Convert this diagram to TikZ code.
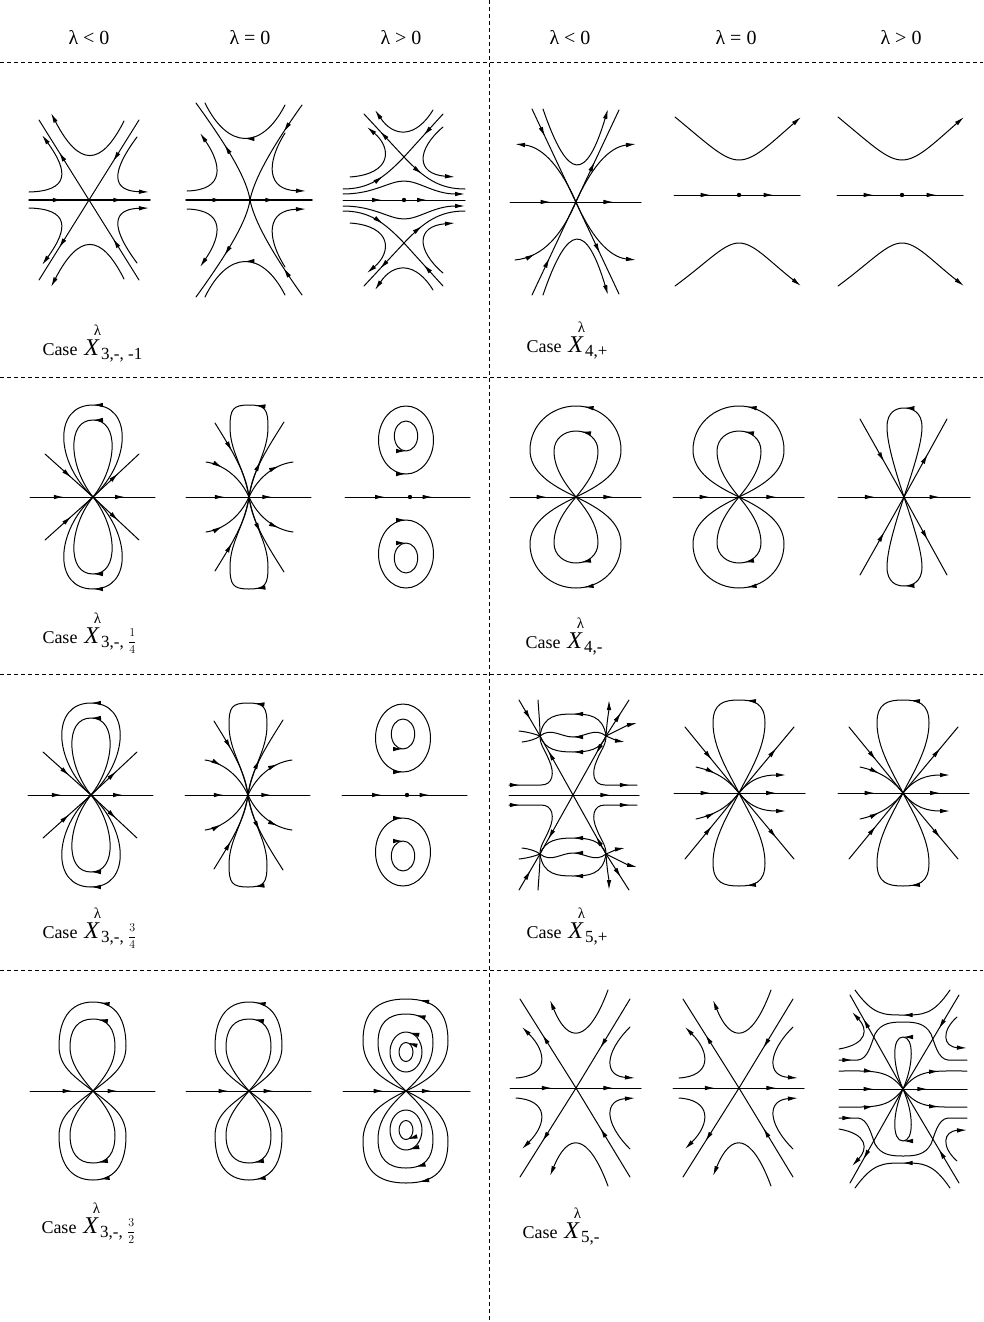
\documentclass[tikz,border=0pt]{standalone}
\usepackage{amsmath}
\usepackage{fontspec}
\setmainfont{Liberation Serif}
\usetikzlibrary{arrows.meta,decorations.markings}
\tikzset{
 >={Latex[length=10pt,width=4.5pt]},
 mk/.style={postaction={decorate,decoration={markings,mark=at position #1 with {\arrow{>}}}}},
 dsh/.style={line width=0.8pt,dash pattern=on 4pt off 3pt,line cap=butt},
 hdr/.style={font=\fontsize{20}{23}\selectfont,anchor=base,inner sep=0pt},
 lbl/.style={font=\fontsize{18}{21}\selectfont,anchor=base west,inner sep=0pt},
 thickax/.style={line width=1.5pt}
}
% case label: #1 = subscript text
\newcommand\caselab[1]{Case\hspace{7pt}{\fontsize{24}{24}\selectfont\textit{X}}\hspace{-6pt}\raisebox{20pt}{\fontsize{15}{15}\selectfont λ}\hspace{0pt}\raisebox{-4pt}{\fontsize{17}{17}\selectfont #1}}
\newcommand\sfr[2]{\raisebox{2pt}{\fontsize{13}{13}\selectfont$\dfrac{#1}{#2}$}}
% oval: center, rx, ry, dir (1: via bottom first, -1: via top first), mark position
\newcommand\ovl[6]{%
 \begin{scope}[shift={(#1,#2)}]
 \pgfmathsetmacro\oA{#3}\pgfmathsetmacro\oAn{-(#3)}%
 \pgfmathsetmacro\oB{(#4)*(#5)}\pgfmathsetmacro\oBn{-(#4)*(#5)}%
 \pgfmathsetmacro\oC{0.5523*(#3)}\pgfmathsetmacro\oCn{-0.5523*(#3)}%
 \pgfmathsetmacro\oD{0.5523*(#4)*(#5)}\pgfmathsetmacro\oDn{-0.5523*(#4)*(#5)}%
 \draw[mk=#6] (\oAn,0) .. controls (\oAn,\oD) and (\oCn,\oB) .. (0,\oB) .. controls (\oC,\oB) and (\oA,\oD) .. (\oA,0) .. controls (\oA,\oDn) and (\oC,\oBn) .. (0,\oBn) .. controls (\oCn,\oBn) and (\oAn,\oDn) .. cycle;
 \end{scope}}
\newcommand\halfAone{%
 \draw[mk=0.52] (50,-80) -- (0,0);
 \draw[mk=0.6] (0,0) -- (-50,-80);
 \draw[->] (35,-79) .. controls (12,-33) and (-10,-33) .. (-38,-87);
 \draw[->] (-60,-8) .. controls (-20,-9) and (-20,-28) .. (-47,-65);
 \draw[->] (48,-63) .. controls (22,-28) and (22,-9) .. (60,-8);}
\newcommand\halfAtwo{%
 \draw[mk=0.3] (52,-95) .. controls (20,-50) and (4,-20) .. (0,0);
 \draw[mk=0.55] (0,0) .. controls (-3,-20) and (-20,-50) .. (-54,-97);
 \draw[mk=0.5] (35,-95) .. controls (12,-50) and (-22,-50) .. (-45,-97);
 \draw[->] (-63,-9) .. controls (-25,-10) and (-28,-35) .. (-50,-67);
 \draw[->] (35,-67) .. controls (15,-35) and (18,-10) .. (56,-9);}
\newcommand\halfAthree{%
 \draw[->] (29,-90) .. controls (12,-62) and (-10,-62) .. (-29,-90);
 \draw[mk=0.6] (0,-43) -- (-40,-86);
 \draw[mk=0.5] (39,-86) -- (0,-43);
 \draw[mk=0.6] (-61,-11) .. controls (-35,-11) and (-20,-22) .. (0,-43);
 \draw[mk=0.35] (0,-43) .. controls (20,-22) and (35,-11) .. (61,-11);
 \draw[->] (-61,-6) .. controls (-30,-6) and (-15,-19) .. (0,-19) .. controls (15,-19) and (30,-6) .. (61,-6);
 \draw[->] (-54,-23) .. controls (-12,-26) and (-12,-52) .. (-37,-73);
 \draw[->] (39,-73) .. controls (12,-50) and (12,-26) .. (51,-23);}
\newcommand\portB[2]{\begin{scope}[shift={(#1,#2)}]
 \draw[mk=0.29,mk=0.79] (-65,0) -- (61,0);
 \fill (0,0) circle[radius=2.2pt];
 \draw[->] (-64,-78) .. controls (-30,-50) and (-15,-35) .. (0,-35) .. controls (15,-35) and (30,-50) .. (62,-78);
 \draw[->] (-64,91) .. controls (-30,66) and (-15,48) .. (0,48) .. controls (15,48) and (30,66) .. (62,91);
 \end{scope}}
\newcommand\halfC{%
 \draw[mk=0.55] (-48,-43) -- (0,0);
 \draw[mk=0.55] (0,0) -- (46,-43);
 \draw[mk=0.5] (0,0) .. controls (38,-35) and (40,-92) .. (0,-92) .. controls (-40,-92) and (-38,-35) .. (0,0);
 \draw[mk=0.5] (0,0) .. controls (24,-30) and (27,-77) .. (0,-77) .. controls (-27,-77) and (-24,-30) .. (0,0);}
\newcommand\portCa[2]{\begin{scope}[shift={(#1,#2)}]
 \draw[mk=0.27,mk=0.76] (-63,0) -- (62,0);
 \foreach \s in {1,-1}{\begin{scope}[yscale=\s]\halfC\end{scope}}
 \end{scope}}
\newcommand\halfCb{%
 \draw[mk=0.47] (0,0) .. controls (5,-30) and (19,-45) .. (19,-70) .. controls (19,-88) and (16,-92) .. (0,-92) .. controls (-16,-92) and (-19,-88) .. (-19,-70) .. controls (-19,-45) and (-5,-30) .. (0,0);
 \draw[mk=0.4] (-34,-74) .. controls (-18,-48) and (-3,-25) .. (0,0);
 \draw[mk=0.3] (-43,-35) .. controls (-28,-33) and (-10,-22) .. (0,0);
 \draw[mk=0.45] (0,0) .. controls (3,-25) and (18,-48) .. (35,-75);
 \draw[mk=0.75] (0,0) .. controls (10,-22) and (28,-33) .. (44,-35);}
\newcommand\portCb[2]{\begin{scope}[shift={(#1,#2)}]
 \draw[mk=0.31,mk=0.69] (-63,0) -- (62,0);
 \foreach \s in {1,-1}{\begin{scope}[yscale=\s]\halfCb\end{scope}}
 \end{scope}}
\newcommand\halfCc{%
 \ovl{-4}{-57}{27.5}{34}{1}{0.25}
 \ovl{-4}{-61}{11.7}{15}{1}{0.25}}
\newcommand\portCc[2]{\begin{scope}[shift={(#1,#2)}]
 \draw[mk=0.32,mk=0.7] (-65,0) -- (60,0);
 \fill (0,0) circle[radius=2.2pt];
 \foreach \s in {1,-1}{\begin{scope}[yscale=\s]\halfCc\end{scope}}
 \end{scope}}
\newcommand\halfD{%
 \draw[mk=0.47] (0,0) .. controls (25,-12) and (45,-25) .. (45,-47) .. controls (45,-72) and (25,-91) .. (0,-91) .. controls (-25,-91) and (-46,-72) .. (-46,-47) .. controls (-46,-25) and (-25,-12) .. (0,0);
 \draw[mk=0.47] (0,0) .. controls (10,-12) and (22,-28) .. (22,-46) .. controls (22,-58) and (12,-66) .. (0,-66) .. controls (-12,-66) and (-22,-58) .. (-22,-46) .. controls (-22,-28) and (-10,-12) .. (0,0);}
\newcommand\portD[2]{\begin{scope}[shift={(#1,#2)}]
 \draw[mk=0.28,mk=0.79] (-66,0) -- (65,0);
 \foreach \s in {1,-1}{\begin{scope}[yscale=\s]\halfD\end{scope}}
 \end{scope}}
\newcommand\halfDthree{%
 \draw[mk=0.55] (-44,-78) -- (0,0);
 \draw[mk=0.55] (0,0) -- (43,-78);
 \draw[mk=0.5] (0,0) .. controls (10,-30) and (18,-55) .. (18,-70) .. controls (18,-85) and (8,-89) .. (0,-89) .. controls (-8,-89) and (-17,-85) .. (-17,-70) .. controls (-17,-55) and (-10,-30) .. (0,0);}
\newcommand\halfFone{%
 \draw[mk=0.12] (-64,-10) -- (-32,-10) .. controls (-20,-10) and (-18,-22) .. (-24,-35) .. controls (-28,-45) and (-33,-50) .. (-33,-59);
 \draw[mk=0.92] (33,-59) .. controls (33,-50) and (28,-45) .. (24,-35) .. controls (18,-22) and (20,-10) .. (32,-10) -- (64,-10);
 \draw[mk=0.75] (0,0) -- (-33,-59);
 \draw[mk=0.3] (33,-59) -- (0,0);
 \draw[mk=0.5] (33,-59) .. controls (30,-80) and (15,-81) .. (0,-81) .. controls (-15,-81) and (-30,-80) .. (-33,-59);
 \draw[mk=0.5] (33,-59) .. controls (22,-68) and (12,-58) .. (0,-58) .. controls (-12,-58) and (-22,-68) .. (-33,-59);
 \draw[mk=0.5] (33,-59) .. controls (28,-45) and (15,-43) .. (0,-43) .. controls (-15,-43) and (-28,-45) .. (-33,-59);
 \draw[mk=0.55] (-54,-95) -- (-33,-59);
 \draw (-35,-95) .. controls (-34,-80) and (-33,-70) .. (-33,-59);
 \draw (-54,-64) .. controls (-45,-63) and (-38,-61) .. (-33,-59);
 \draw (-51,-53) .. controls (-43,-54) and (-37,-56) .. (-33,-59);
 \draw[->] (33,-59) .. controls (34,-75) and (36,-85) .. (36,-95);
 \draw[mk=0.65] (33,-59) -- (56,-95);
 \draw[->] (33,-59) .. controls (45,-65) and (55,-70) .. (64,-72);
 \draw[->] (33,-59) .. controls (40,-56) and (45,-54) .. (52,-53);}
\newcommand\halfF{%
 \draw[mk=0.47] (0,0) .. controls (10,-20) and (26,-45) .. (26,-70) .. controls (26,-90) and (15,-93) .. (0,-93) .. controls (-15,-93) and (-26,-90) .. (-26,-70) .. controls (-26,-45) and (-10,-20) .. (0,0);
 \draw[mk=0.5] (-54,-66) -- (0,0);
 \draw[mk=0.68] (0,0) -- (55,-66);
 \draw[mk=0.4] (-43,-26) .. controls (-25,-22) and (-12,-15) .. (0,0);
 \draw[->] (0,0) .. controls (12,-15) and (25,-18) .. (47,-18);}
\newcommand\portF[2]{\begin{scope}[shift={(#1,#2)}]
 \draw[mk=0.28,mk=0.78] (-65,0) -- (66,0);
 \foreach \s in {1,-1}{\begin{scope}[yscale=\s]\halfF\end{scope}}
 \end{scope}}
\newcommand\halfG{%
 \draw[mk=0.47] (0,0) .. controls (20,-15) and (33,-25) .. (33,-45) .. controls (33,-70) and (24,-89) .. (0,-89) .. controls (-24,-89) and (-34,-70) .. (-34,-45) .. controls (-34,-25) and (-20,-15) .. (0,0);
 \draw[mk=0.47] (0,0) .. controls (12,-14) and (22,-28) .. (22,-44) .. controls (22,-62) and (15,-72) .. (0,-72) .. controls (-15,-72) and (-23,-62) .. (-23,-44) .. controls (-23,-28) and (-12,-14) .. (0,0);}
\newcommand\portG[2]{\begin{scope}[shift={(#1,#2)}]
 \draw[mk=0.34,mk=0.7] (-63,0) -- (62,0);
 \foreach \s in {1,-1}{\begin{scope}[yscale=\s]\halfG\end{scope}}
 \end{scope}}
\newcommand\halfGthree{%
 \draw[mk=0.45] (0,0) .. controls (25,-12) and (42,-25) .. (42,-50) .. controls (42,-78) and (30,-92) .. (0,-92) .. controls (-30,-92) and (-43,-78) .. (-43,-50) .. controls (-43,-25) and (-25,-12) .. (0,0);
 \draw[mk=0.45] (0,0) .. controls (15,-14) and (27,-28) .. (27,-48) .. controls (27,-68) and (18,-77) .. (0,-77) .. controls (-18,-77) and (-28,-68) .. (-28,-48) .. controls (-28,-28) and (-15,-14) .. (0,0);
 \ovl{0}{-39}{16}{20}{1}{0.72}
 \ovl{0}{-39}{7}{9.5}{1}{0.72}}
\newcommand\halfH{%
 \draw[mk=0.6] (0,0) -- (-56,-89);
 \draw[mk=0.55] (54,-89) -- (0,0);
 \draw[->] (32,-98) .. controls (12,-44) and (-8,-44) .. (-26,-88);
 \draw[->] (-60,-10) .. controls (-28,-12) and (-28,-35) .. (-54,-61);
 \draw[->] (54,-61) .. controls (28,-35) and (28,-12) .. (59,-10);}
\newcommand\portH[2]{\begin{scope}[shift={(#1,#2)}]
 \draw[mk=0.32,mk=0.79] (-66,0) -- (65,0);
 \foreach \s in {1,-1}{\begin{scope}[yscale=\s]\halfH\end{scope}}
 \end{scope}}
\newcommand\halfHthree{%
 \draw[mk=0.75] (0,0) -- (-53,-94);
 \draw[mk=0.36] (56,-94) -- (0,0);
 \draw[mk=0.5] (47,-99) .. controls (30,-74) and (20,-74) .. (0,-74) .. controls (-20,-74) and (-30,-74) .. (-48,-99);
 \draw[mk=0.08] (-64,-29) -- (-45,-29) .. controls (-35,-30) and (-32,-45) .. (-28,-55) .. controls (-22,-66) and (-12,-67) .. (0,-67) .. controls (12,-67) and (22,-66) .. (28,-55) .. controls (32,-45) and (35,-30) .. (45,-29) -- (64,-29);
 \draw[mk=0.5] (0,0) .. controls (11,-25) and (11,-52) .. (0,-52) .. controls (-11,-52) and (-11,-25) .. (0,0);
 \draw[->] (-64,-40) .. controls (-35,-45) and (-35,-60) .. (-51,-77);
 \draw[->] (54,-72) .. controls (38,-58) and (40,-42) .. (64,-41);
 \draw[mk=0.5] (-64,-18) .. controls (-30,-18) and (-15,-20) .. (0,0);
 \draw[mk=0.6] (0,0) .. controls (15,-20) and (30,-18) .. (64,-18);}
\begin{document}
\begin{tikzpicture}[x=1pt,y=-1pt,line width=1pt,line cap=round,line join=round]
\fill[white] (0,0) rectangle (983,1322);
\useasboundingbox (0,0) rectangle (983,1322);
% grid
\draw[dsh] (489,0) -- (489,1322);
\draw[dsh] (0,62) -- (983,62);
\draw[dsh] (0,377) -- (983,377);
\draw[dsh] (0,674) -- (983,674);
\draw[dsh] (0,970) -- (983,970);
% headers
\node[hdr] (h1) at (89,45) {λ < 0};
\node[hdr] (h2) at (250,45) {λ = 0};
\node[hdr] (h3) at (401,45) {λ > 0};
\node[hdr] (h4) at (570,45) {λ < 0};
\node[hdr] (h5) at (736,45) {λ = 0};
\node[hdr] (h6) at (901,45) {λ > 0};
% labels
\node[lbl] (c1) at (42,355) {\caselab{3,-, -1}};
\node[lbl] (c2) at (526,352) {\caselab{4,+}};
\node[lbl] (c3) at (42,643) {\caselab{3,-, \sfr{1}{4}}};
\node[lbl] (c4) at (525,648) {\caselab{4,-}};
\node[lbl] (c5) at (42,938) {\caselab{3,-, \sfr{3}{4}}};
\node[lbl] (c6) at (526,938) {\caselab{5,+}};
\node[lbl] (c7) at (41,1233) {\caselab{3,-, \sfr{3}{2}}};
\node[lbl] (c8) at (522,1238) {\caselab{5,-}};
% ---- row 1
\begin{scope}[shift={(89,200)}]
 \draw[thickax,mk=0.28,mk=0.78] (-60,0) -- (61,0);
 \foreach \s in {1,-1}{\begin{scope}[yscale=\s]\halfAone\end{scope}}
\end{scope}
\begin{scope}[shift={(250,200)}]
 \draw[thickax,mk=0.29,mk=0.71] (-64,0) -- (62,0);
 \foreach \s in {1,-1}{\begin{scope}[yscale=\s]\halfAtwo\end{scope}}
\end{scope}
\begin{scope}[shift={(404,200)}]
 \draw[mk=0.32,mk=0.69] (-61,0) -- (61,0);
 \fill (0,0) circle[radius=2.2pt];
 \foreach \s in {1,-1}{\begin{scope}[yscale=\s]\halfAthree\end{scope}}
\end{scope}
\begin{scope}[shift={(576,202)}]
 \draw[mk=0.31,mk=0.79] (-66,0) -- (65,0);
 \draw[mk=0.15,mk=0.78] (-44,-93) -- (43,92);
 \draw[mk=0.2,mk=0.72] (-44,93) -- (43,-92);
 \draw[->] (-33,-93) .. controls (-8,-20) and (10,-20) .. (32,-93);
 \draw[->] (-33,93) .. controls (-8,20) and (10,20) .. (32,93);
 \draw[mk=0.12,->] (-61,58) .. controls (-32,55) and (-14,32) .. (0,0) .. controls (14,-32) and (32,-55) .. (60,-58);
 \draw[->] (0,0) .. controls (-14,-32) and (-32,-55) .. (-61,-58);
 \draw[->] (0,0) .. controls (14,32) and (32,55) .. (60,58);
\end{scope}
\portB{739}{195}
\portB{902}{195}
% ---- row 2
\portCa{93}{497}
\portCb{249}{497}
\portCc{410}{497}
\portD{576}{497}
\portD{739}{497}
\begin{scope}[shift={(904,497)}]
 \draw[mk=0.28,mk=0.77] (-66,0) -- (66,0);
 \foreach \s in {1,-1}{\begin{scope}[yscale=\s]\halfDthree\end{scope}}
\end{scope}
% ---- row 3
\portCa{91}{795}
\portCb{248}{795}
\portCc{407}{795}
\begin{scope}[shift={(573,795)}]
 \draw[mk=0.78] (-64,0) -- (66,0);
 \foreach \s in {1,-1}{\begin{scope}[yscale=\s]\halfFone\end{scope}}
\end{scope}
\portF{739}{793}
\portF{903}{793}
% ---- row 4
\portG{93}{1091}
\portG{249}{1091}
\begin{scope}[shift={(406,1091)}]
 \draw[mk=0.32,mk=0.7] (-63,0) -- (64,0);
 \foreach \s in {1,-1}{\begin{scope}[yscale=\s]\halfGthree\end{scope}}
\end{scope}
\portH{576}{1088}
\portH{739}{1088}
\begin{scope}[shift={(903,1089)}]
 \draw[mk=0.27,mk=0.69] (-64,0) -- (64,0);
 \foreach \s in {1,-1}{\begin{scope}[yscale=\s]\halfHthree\end{scope}}
\end{scope}
\end{tikzpicture}
\end{document}
